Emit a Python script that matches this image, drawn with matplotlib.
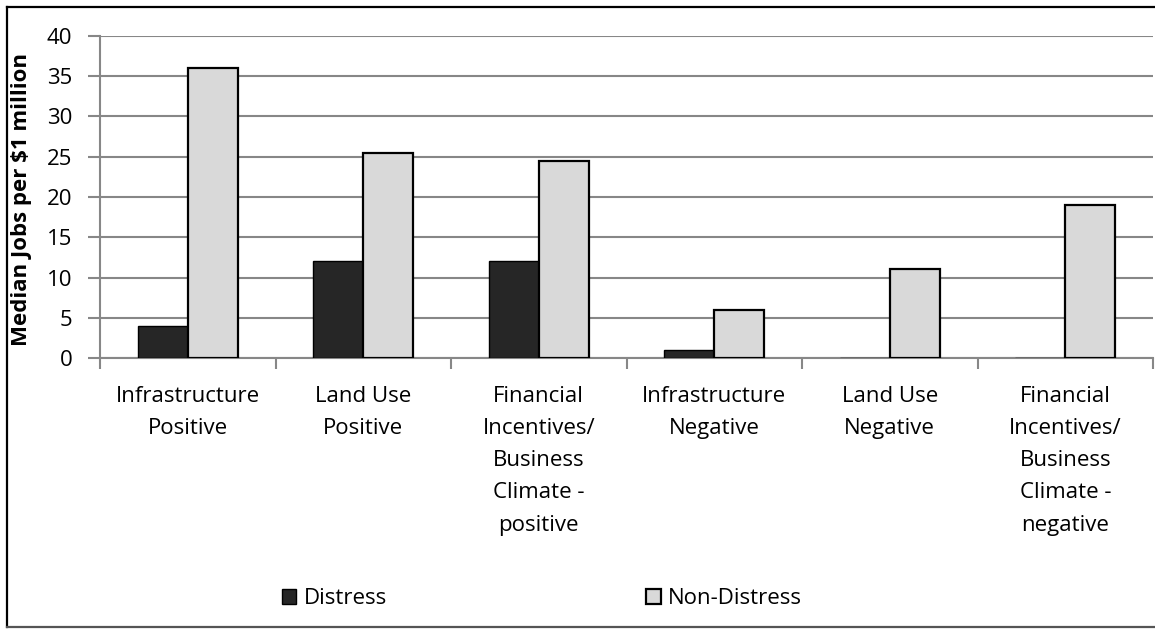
import matplotlib
matplotlib.use("Agg")
import matplotlib.pyplot as plt
import numpy as np
from matplotlib.lines import Line2D

categories = [
    "Infrastructure\nPositive",
    "Land Use\nPositive",
    "Financial\nIncentives/\nBusiness\nClimate -\npositive",
    "Infrastructure\nNegative",
    "Land Use\nNegative",
    "Financial\nIncentives/\nBusiness\nClimate -\nnegative",
]
distress = [4, 12, 12, 1, 0, 0]
non_distress = [36, 25.5, 24.5, 6, 11, 19]
y_ticks = [0, 5, 10, 15, 20, 25, 30, 35, 40]

plt.rcParams["font.family"] = ["Open Sans", "DejaVu Sans"]
FS = 16

W, H = 1155, 631
fig = plt.figure(figsize=(W / 100, H / 100), dpi=100)
ax = fig.add_axes([100 / W, 1 - 358 / H, 1053 / W, 322 / H])

grid_c = "#878787"
n = len(categories)
x = np.arange(n)
bw = 0.285
ax.bar(x - bw / 2, distress, width=bw, color="#262626", edgecolor="#000000",
       linewidth=1.0, label="Distress", zorder=3)
ax.bar(x + bw / 2, non_distress, width=bw, color="#d9d9d9", edgecolor="#000000",
       linewidth=1.6, label="Non-Distress", zorder=3)

ax.set_xlim(-0.5, n - 0.5)
ax.set_ylim(0, 40)
ax.set_yticks(y_ticks)
ax.set_yticklabels([str(v) for v in y_ticks], fontsize=FS)
ax.yaxis.grid(True, color=grid_c, linewidth=1.5, zorder=0)
ax.set_axisbelow(True)

# category boundary ticks on x axis, labels centred under each group
ax.set_xticks(np.arange(n + 1) - 0.5)
ax.set_xticklabels([])
ax.set_xticks(x, minor=True)
ax.set_xticklabels(categories, minor=True, fontsize=FS, linespacing=1.7,
                   va="top")
ax.tick_params(axis="x", which="minor", length=0, pad=20)
ax.tick_params(axis="x", which="major", length=8, width=1.5, color=grid_c,
               direction="out")
ax.tick_params(axis="y", length=9, width=1.5, color=grid_c, pad=11)

for s in ["top", "right"]:
    ax.spines[s].set_visible(False)
for s in ["left", "bottom"]:
    ax.spines[s].set_color(grid_c)
    ax.spines[s].set_linewidth(1.5)

fig.text(22 / W, 1 - 200 / H, "Median Jobs per $1 million", fontsize=FS,
         fontweight="bold", rotation=90, ha="center", va="center")

fig.legend(loc="center", bbox_to_anchor=(542 / W, 1 - 599 / H), ncol=2,
           frameon=False, fontsize=FS, handlelength=0.65, handleheight=0.65,
           handletextpad=0.35, columnspacing=11.65)

# outer frame of the chart
lw = 1.6
fig.add_artist(Line2D([7 / W, 7 / W], [1 - 7 / H, 1 - 627 / H],
                      transform=fig.transFigure, color="#000000", linewidth=lw))
fig.add_artist(Line2D([7 / W, 1.0], [1 - 7 / H, 1 - 7 / H],
                      transform=fig.transFigure, color="#000000", linewidth=lw))
fig.add_artist(Line2D([7 / W, 1.0], [1 - 627 / H, 1 - 627 / H],
                      transform=fig.transFigure, color="#555555", linewidth=lw))

fig.savefig("out.png", dpi=100)
